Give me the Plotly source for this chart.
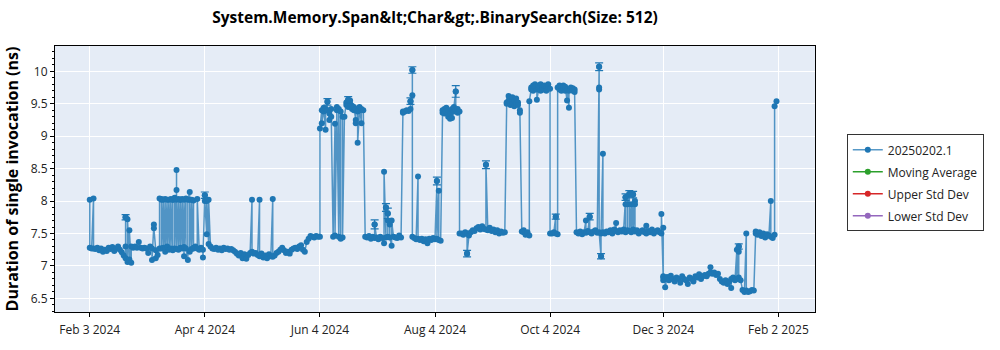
import plotly.graph_objects as go

# ---------------- data ----------------
title_text = "System.Memory.Span&amp;lt;Char&amp;gt;.BinarySearch(Size: 512)"
y_title = "Duration of single invocation (ns)"
series_name = "20250202.1"
legend_names = ["Moving Average", "Upper Std Dev", "Lower Std Dev"]

tick_dates = ["2024-02-03", "2024-04-04", "2024-06-04", "2024-08-04",
              "2024-10-04", "2024-12-03", "2025-02-02"]

feb24_days = [3, 3, 4, 5, 5, 6, 7, 8, 9, 10, 11, 12, 13, 14, 15, 16, 17, 18, 19, 20, 21,
              22, 22, 22, 23, 23, 24, 24, 25, 25, 26, 27, 28, 29]
feb24_vals = [8.02, 7.28, 7.27, 8.04, 7.27, 7.26, 7.28, 7.24, 7.27, 7.22, 7.25, 7.23, 7.28,
              7.26, 7.29, 7.23, 7.27, 7.30, 7.25, 7.21, 7.16, 7.12, 7.75, 7.3, 7.06, 7.72,
              7.1, 7.55, 7.05, 7.3, 7.28, 7.3, 7.28, 7.37]

mar24_days = [1, 2, 3, 4, 5, 6, 7, 7, 8, 8, 9, 9, 10, 11, 11, 12, 12, 12, 13, 13, 14, 14, 14,
              15, 15, 16, 16, 17, 17, 18, 18, 18, 19, 19, 20, 20, 20, 20, 21, 21, 22, 22, 22,
              23, 23, 24, 24, 24, 25, 25, 26, 26, 27, 27, 27, 28, 28, 29, 29, 29, 30, 31, 31]
mar24_vals = [7.28, 7.27, 7.28, 7.27, 7.2, 7.3, 7.27, 7.09, 7.64, 7.58, 7.24, 7.12, 7.17,
              7.27, 8.04, 8.02, 7.27, 8.03, 7.28, 8.02, 7.22, 8.03, 7.26, 8.02, 7.3, 8.02,
              7.25, 8.03, 7.27, 8.02, 7.24, 8.02, 8.05, 7.27, 8.17, 8.48, 8.02, 7.26, 8.03,
              7.25, 8.02, 7.28, 8.02, 7.27, 8.03, 7.15, 8.02, 7.29, 8.04, 7.27, 7.09, 8.02,
              8.14, 7.22, 8.02, 7.26, 8.02, 7.27, 8.01, 7.28, 7.3, 7.27, 8.03]

apr24_days = [1, 2, 3, 3, 4, 4, 5, 5, 6, 6, 7, 8, 9, 10, 11, 12, 13, 14, 15, 16, 17, 18, 19,
              20, 21, 22, 23, 24, 25, 26, 27, 28, 29, 29, 30]
apr24_vals = [7.25, 7.28, 7.25, 7.13, 8.09, 8.0, 7.49, 8.0, 7.34, 8.02, 7.3, 7.27, 7.26,
              7.28, 7.25, 7.27, 7.24, 7.28, 7.26, 7.27, 7.25, 7.26, 7.24, 7.22, 7.19, 7.16,
              7.2, 7.12, 7.18, 7.11, 7.17, 7.2, 8.02, 7.22, 7.19]

may24_days = [1, 2, 3, 3, 4, 5, 6, 7, 8, 9, 10, 10, 11, 12, 13, 14, 15, 16, 17, 18, 19, 20,
              21, 22, 23, 24, 25, 26, 27, 28, 29, 30, 31]
may24_vals = [7.2, 7.17, 8.02, 7.15, 7.19, 7.13, 7.16, 7.12, 7.18, 7.15, 8.03, 7.14, 7.16,
              7.2, 7.22, 7.25, 7.28, 7.24, 7.2, 7.22, 7.19, 7.25, 7.27, 7.28, 7.26, 7.3,
              7.32, 7.25, 7.22, 7.37, 7.42, 7.46, 7.45]

jun24_days = [1, 2, 3, 4, 4, 5, 5, 6, 6, 7, 7, 8, 8, 9, 9, 10, 10, 11, 12, 12, 13, 13, 14,
              14, 15, 15, 16, 16, 17, 18, 18, 19, 19, 20, 20, 21, 21, 22, 22, 23, 23, 23, 24,
              24, 25, 25, 26, 26, 27, 28, 29, 30]
jun24_vals = [7.44, 7.46, 7.45, 7.45, 9.12, 9.4, 9.2, 9.44, 9.38, 9.1, 9.42, 9.53, 9.4, 9.35,
              9.25, 9.42, 9.3, 7.45, 9.19, 7.47, 9.45, 9.4, 7.45, 9.42, 7.42, 9.38, 9.3, 7.44,
              9.3, 9.48, 9.52, 9.56, 9.45, 9.5, 9.55, 9.42, 9.47, 9.4, 9.45, 9.25, 9.2, 9.42,
              9.38, 8.9, 9.4, 9.45, 9.2, 9.42, 9.4, 7.45, 7.44, 7.46]

jul24_days = [1, 2, 3, 3, 4, 5, 6, 7, 8, 8, 9, 9, 10, 10, 10, 11, 11, 12, 12, 13, 14, 15, 16,
              17, 18, 18, 19, 20, 21, 22, 22, 23, 23, 23, 24, 25, 26, 26, 27, 28, 29, 30, 31]
jul24_vals = [7.42, 7.45, 7.43, 7.64, 7.44, 7.41, 7.45, 7.43, 7.35, 8.45, 7.44, 7.9, 7.81,
              7.45, 7.7, 7.64, 7.44, 7.31, 7.7, 7.45, 7.44, 7.43, 7.47, 7.44, 9.38, 9.36,
              9.38, 9.4, 9.39, 9.42, 9.54, 9.63, 10.02, 7.45, 7.43, 7.41, 8.38, 7.42, 7.4,
              7.42, 7.38, 7.41, 7.35]

aug24_days = [1, 2, 3, 4, 5, 5, 6, 6, 7, 8, 8, 9, 9, 10, 10, 11, 11, 12, 12, 13, 13, 14, 14,
              15, 15, 16, 16, 17, 17, 18, 19, 20, 21, 21, 22, 23, 24, 25, 26, 27, 28, 29, 30,
              31, 31]
aug24_vals = [7.42, 7.4, 7.43, 7.41, 8.31, 7.42, 8.16, 7.4, 7.39, 9.36, 9.4, 9.42, 9.35,
              9.44, 9.38, 9.3, 9.4, 9.27, 9.35, 9.42, 9.28, 9.38, 9.45, 9.69, 9.4, 9.36,
              9.42, 9.38, 7.5, 7.5, 7.48, 7.52, 7.5, 7.19, 7.47, 7.52, 7.55, 7.54, 7.58,
              7.6, 7.56, 7.61, 7.57, 7.56, 8.56]

sep24_days = [1, 2, 3, 4, 5, 6, 7, 8, 9, 10, 11, 11, 12, 12, 13, 13, 14, 14, 15, 15, 16, 16,
              17, 17, 18, 18, 19, 20, 20, 21, 21, 22, 23, 23, 24, 24, 25, 25, 26, 26, 27, 27,
              28, 28, 29, 29, 30, 30]
sep24_vals = [7.55, 7.59, 7.54, 7.56, 7.52, 7.55, 7.5, 7.53, 7.51, 7.52, 9.5, 9.52, 9.55,
              9.62, 9.52, 9.48, 9.6, 9.5, 9.46, 9.55, 9.58, 9.5, 9.52, 9.48, 9.4, 9.36, 7.53,
              7.55, 7.52, 7.5, 7.48, 7.52, 7.47, 9.54, 9.72, 9.75, 9.78, 9.7, 9.8, 9.76,
              9.72, 9.56, 9.74, 9.78, 9.7, 9.8, 9.75, 9.72]

oct24_days = [1, 1, 2, 2, 3, 3, 4, 4, 5, 6, 7, 7, 8, 8, 9, 9, 10, 10, 11, 11, 12, 12, 13, 13,
              14, 14, 15, 15, 16, 16, 17, 17, 18, 19, 20, 21, 22, 23, 23, 24, 25, 25, 26, 27,
              28, 29, 30, 30, 30, 30, 31, 31]
oct24_vals = [9.72, 9.78, 9.74, 9.7, 9.76, 9.8, 9.73, 7.5, 7.5, 7.52, 7.76, 7.5, 7.49, 9.75,
              9.72, 9.78, 9.75, 9.7, 9.78, 9.74, 9.7, 9.76, 9.55, 9.72, 9.44, 9.7, 9.75,
              9.72, 9.74, 9.7, 9.72, 9.68, 7.52, 7.5, 7.53, 7.49, 7.52, 7.7, 7.51, 7.54,
              7.76, 7.52, 7.5, 7.53, 7.55, 7.51, 9.72, 10.07, 9.75, 7.52, 7.15, 7.5]

nov24_days = [1, 1, 2, 3, 4, 5, 6, 7, 8, 8, 9, 10, 11, 12, 13, 13, 13, 14, 14, 15, 15, 16,
              16, 17, 17, 18, 18, 18, 19, 20, 21, 22, 23, 24, 24, 25, 26, 27, 28, 29, 30]
nov24_vals = [8.73, 7.52, 7.5, 7.53, 7.52, 7.55, 7.5, 7.56, 7.66, 7.54, 7.52, 7.55, 7.53,
              7.56, 8.06, 7.95, 7.52, 7.55, 7.95, 8.11, 7.54, 7.95, 7.52, 8.1, 7.56, 8.0,
              7.95, 7.53, 7.55, 7.5, 7.53, 7.55, 7.52, 7.62, 7.5, 7.54, 7.52, 7.56, 7.5,
              7.53, 7.55]

dec24_days = [1, 2, 2, 3, 3, 3, 3, 4, 4, 5, 6, 7, 8, 9, 10, 11, 12, 13, 14, 15, 16, 17, 18,
              19, 20, 21, 22, 23, 24, 25, 26, 27, 28, 28, 29, 30, 31]
dec24_vals = [7.52, 7.5, 7.8, 6.84, 6.78, 7.59, 6.82, 6.8, 6.67, 6.83, 6.78, 6.85, 6.8,
              6.76, 6.82, 6.8, 6.74, 6.84, 6.8, 6.78, 6.72, 6.82, 6.8, 6.76, 6.84, 6.82,
              6.87, 6.8, 6.84, 6.86, 6.84, 6.88, 6.98, 6.9, 6.88, 6.9, 6.86]

jan25_days = [1, 2, 3, 4, 5, 6, 7, 8, 8, 9, 10, 11, 11, 12, 12, 12, 13, 14, 15, 16, 16, 17,
              18, 19, 20, 21, 21, 22, 23, 24, 25, 26, 27, 28, 29, 29, 30, 31, 31]
jan25_vals = [6.88, 6.8, 6.76, 6.74, 6.78, 6.72, 6.76, 6.66, 6.8, 6.82, 6.78, 7.25, 6.8,
              7.3, 7.22, 6.82, 6.78, 6.63, 6.6, 7.5, 6.62, 6.6, 6.61, 6.63, 6.62, 7.53, 7.5,
              7.48, 7.52, 7.46, 7.5, 7.44, 7.49, 7.47, 8.0, 7.45, 7.43, 7.48, 9.46]

feb25_days = [1]
feb25_vals = [9.54]

typical_err = 0.03

# points whose error bars are clearly visible
err_dates = ["2024-02-22", "2024-04-04", "2024-06-08", "2024-06-19", "2024-07-03",
             "2024-07-09", "2024-07-10", "2024-07-22", "2024-07-23", "2024-08-05",
             "2024-08-15", "2024-08-21", "2024-08-31", "2024-10-07", "2024-10-25",
             "2024-10-30", "2024-10-31", "2024-11-13", "2024-11-15", "2024-11-17",
             "2025-01-12"]
err_vals = [7.75, 8.09, 9.53, 9.56, 7.64, 7.9, 7.81, 9.54, 10.02, 8.31, 9.69, 7.19, 8.56,
            7.76, 7.76, 10.07, 7.15, 8.06, 8.11, 8.1, 7.3]
err_sizes = [0.04, 0.05, 0.05, 0.05, 0.07, 0.06, 0.08, 0.05, 0.05, 0.06, 0.09, 0.05, 0.06,
             0.04, 0.05, 0.06, 0.04, 0.05, 0.05, 0.05, 0.04]

moving_average = []
upper_std = []
lower_std = []

# ---------------- assemble ----------------
months = [
    (2024, 2, feb24_days, feb24_vals), (2024, 3, mar24_days, mar24_vals),
    (2024, 4, apr24_days, apr24_vals), (2024, 5, may24_days, may24_vals),
    (2024, 6, jun24_days, jun24_vals), (2024, 7, jul24_days, jul24_vals),
    (2024, 8, aug24_days, aug24_vals), (2024, 9, sep24_days, sep24_vals),
    (2024, 10, oct24_days, oct24_vals), (2024, 11, nov24_days, nov24_vals),
    (2024, 12, dec24_days, dec24_vals), (2025, 1, jan25_days, jan25_vals),
    (2025, 2, feb25_days, feb25_vals),
]
dates, values = [], []
for yr, mo, ds, vs in months:
    assert len(ds) == len(vs), (yr, mo, len(ds), len(vs))
    dates += [f"{yr}-{mo:02d}-{d:02d}" for d in ds]
    values += vs

BLUE = "#1f77b4"
FONT = "Open Sans"

fig = go.Figure()
fig.add_trace(go.Scatter(
    x=dates, y=values, name=series_name, mode="lines+markers", legendgroup="g0",
    line=dict(color="rgba(31,119,180,0.75)", width=1.5),
    marker=dict(color=BLUE, size=6),
    error_y=dict(type="data", value=typical_err, color="rgba(31,119,180,0.7)",
                 thickness=1, width=3),
))
fig.add_trace(go.Scatter(
    x=err_dates, y=err_vals, mode="markers", showlegend=False, hoverinfo="skip",
    legendgroup="g0",
    marker=dict(color=BLUE, size=6),
    error_y=dict(type="data", array=err_sizes, color=BLUE, thickness=1.2, width=4),
))
for i, (nm, data, col) in enumerate(zip(legend_names, [moving_average, upper_std, lower_std],
                                        ["#2ca02c", "#d62728", "#9467bd"])):
    fig.add_trace(go.Scatter(x=[None], y=[None] if not data else data, name=nm,
                             mode="lines+markers", legendgroup=f"g{i + 1}",
                             line=dict(color=col, width=1.5),
                             marker=dict(color=col, size=6)))

# legend shadow
fig.add_shape(type="rect", xref="paper", yref="paper",
              x0=(850 - 50) / 765, x1=(985 - 50) / 765,
              y0=(320 - 231) / 274, y1=(320 - 141) / 274,
              fillcolor="#8a8a8a", line=dict(width=0), layer="above")

fig.update_layout(
    width=1000, height=350,
    margin=dict(l=50, r=185, t=46, b=30),
    paper_bgcolor="white", plot_bgcolor="#E5ECF6",
    font=dict(family=FONT, size=12, color="#222"),
    title=dict(text=title_text, x=0.5, xref="paper", xanchor="center",
               y=1 - 18 / 350, yref="container", yanchor="middle",
               font=dict(family=FONT, size=15.5, color="black", weight="bold")),
    showlegend=True,
    legend=dict(x=(847 - 50) / 765, y=(320 - 137) / 274, xanchor="left", yanchor="top",
                bgcolor="white", bordercolor="#333", borderwidth=1,
                font=dict(family=FONT, size=12, color="#222"),
                traceorder="grouped", tracegroupgap=3),
)
fig.update_xaxes(
    type="date", range=["2024-01-15 14:00", "2025-02-21 10:00"],
    tickvals=tick_dates, tickformat="%b %-d %Y",
    showgrid=True, gridcolor="white", gridwidth=1,
    showline=True, linecolor="black", linewidth=1, mirror=True,
    ticks="outside", ticklen=4, tickcolor="black", ticklabelstandoff=3,
    tickfont=dict(family=FONT, size=12, color="#222"),
    zeroline=False,
)
fig.update_yaxes(
    range=[6.29, 10.39], tick0=6.5, dtick=0.5,
    showgrid=True, gridcolor="white", gridwidth=1,
    showline=True, linecolor="black", linewidth=1, mirror=True,
    ticks="outside", ticklen=4, tickcolor="black",
    minor=dict(ticks="outside", ticklen=2, dtick=0.1, tickcolor="black", showgrid=False),
    tickfont=dict(family=FONT, size=12, color="#222"),
    title=dict(text=y_title, standoff=8,
               font=dict(family=FONT, size=16, color="black", weight="bold")),
    zeroline=False,
)

fig.write_html("out.html")
